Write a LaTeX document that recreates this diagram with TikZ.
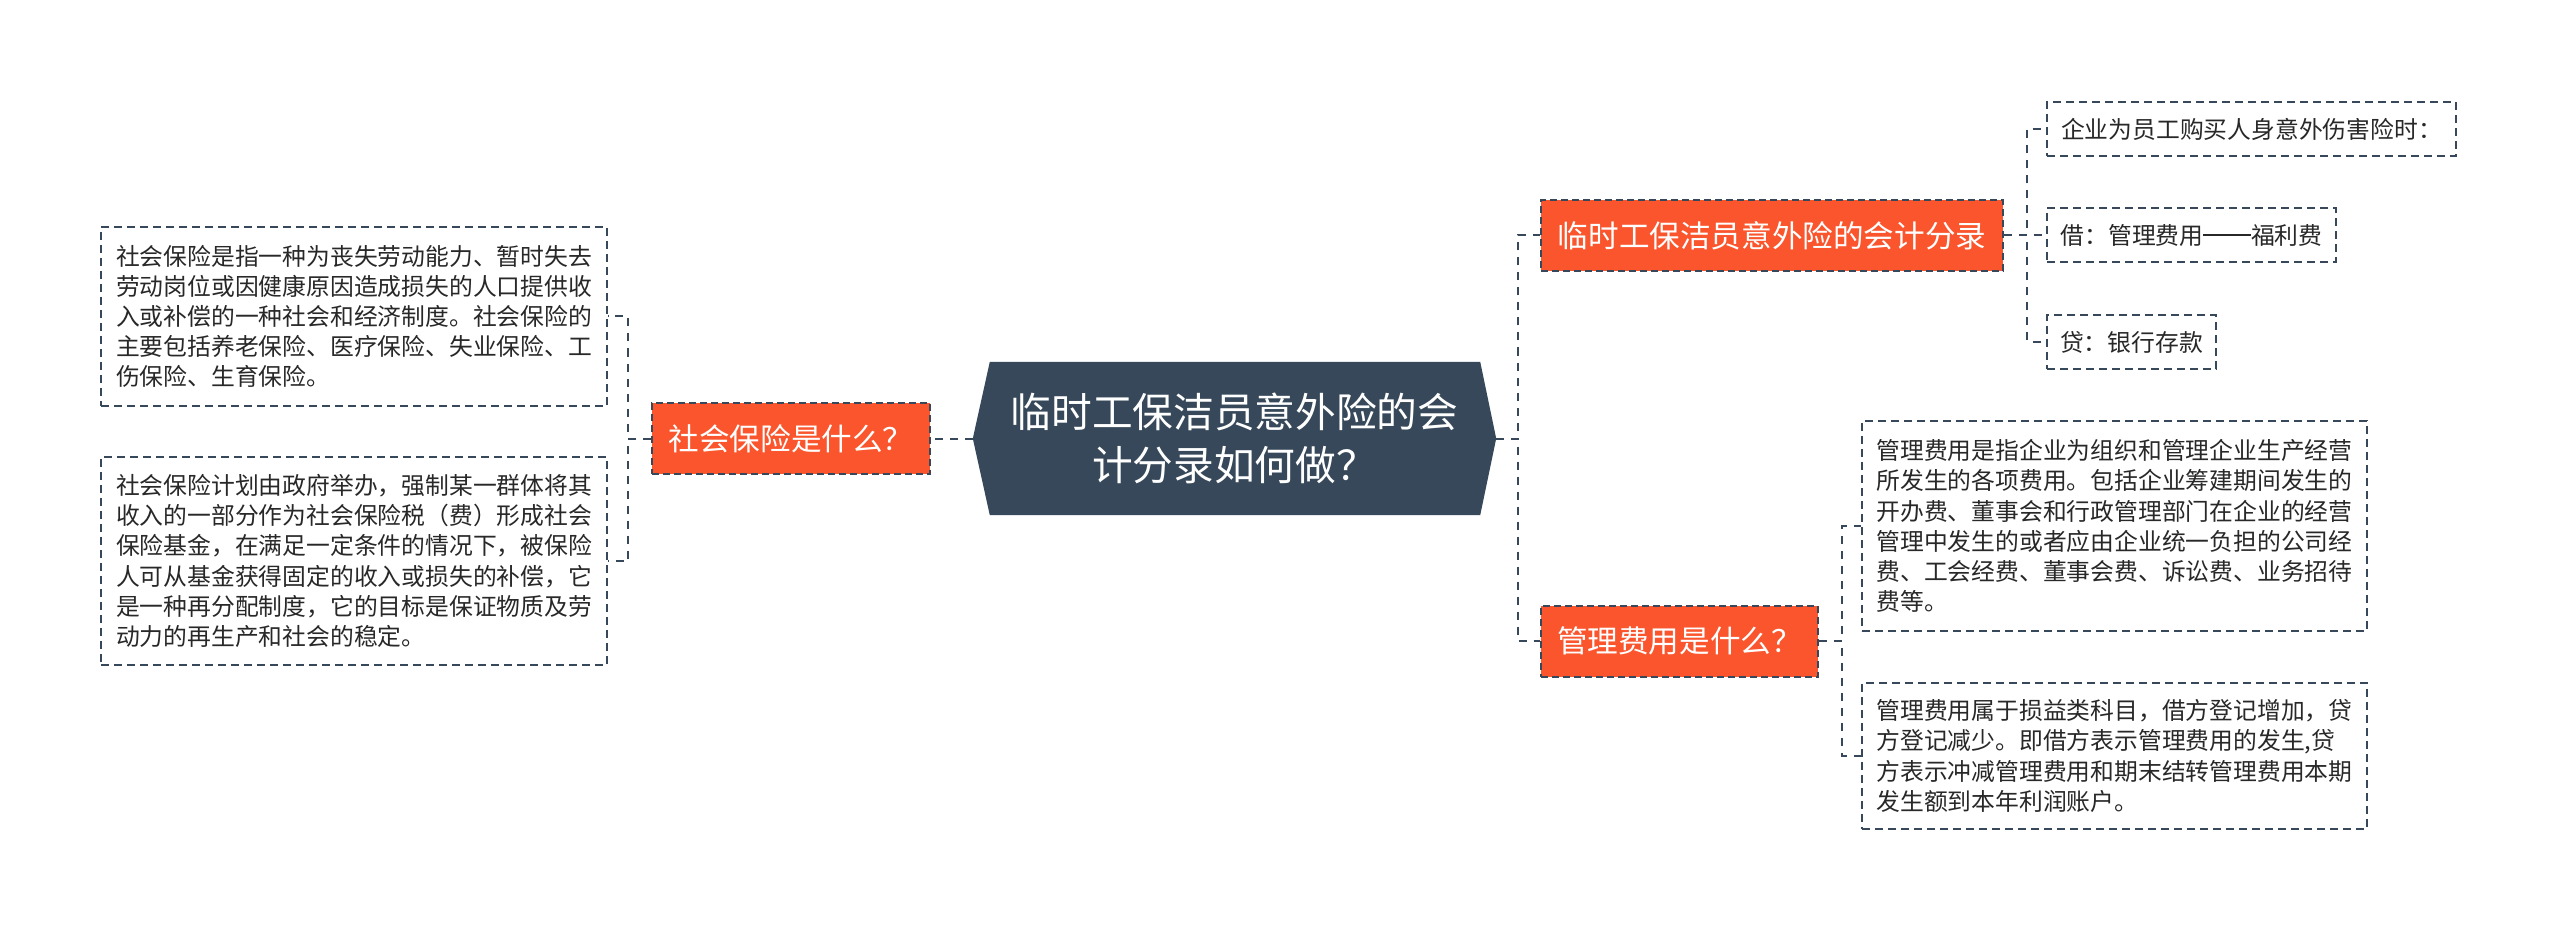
\documentclass[tikz,border=0pt]{standalone}
\usepackage{fontspec}
\newfontfamily\cjk{Noto Sans CJK SC}
\usetikzlibrary{calc,backgrounds}
\definecolor{orng}{RGB}{250,85,45}
\definecolor{slate}{RGB}{54,72,89}
\definecolor{txt}{RGB}{40,40,40}
\begin{document}
\begin{tikzpicture}[x=1pt,y=-1pt,
  conn/.style={draw=slate, line width=2pt, dash pattern=on 8pt off 7pt},
  leafbox/.style={draw=slate, line width=1.8pt, dash pattern=on 8pt off 5pt, fill=white,
    align=left, text=txt, font=\cjk\fontsize{23.8}{30.2}\selectfont, inner sep=0pt},
  branchbox/.style={fill=orng, draw=slate, line width=2pt, dash pattern=on 7pt off 4pt,
    text=white, font=\cjk\fontsize{30.6}{36}\selectfont, inner sep=0pt, minimum height=71pt},
  rootbox/.style={text=white, align=center, font=\cjk\fontsize{40.7}{53}\selectfont, inner sep=0pt}]
\useasboundingbox (0,0) rectangle (2560,933);

% root
\node[rootbox, minimum width=523pt, minimum height=153pt] (c) at (1234.5,438.5)
  {临时工保洁员意外险的会\\计分录如何做？};
\begin{scope}[on background layer]
\fill[white] (0,0) rectangle (2560,933);
\fill[slate] (c.west) -- ($(c.north west)+(17,0)$) -- ($(c.north east)+(-16,0)$) -- (c.east)
  -- ($(c.south east)+(-16,0)$) -- ($(c.south west)+(17,0)$) -- cycle;
\end{scope}

% left branch
\node[branchbox, minimum width=278pt] (ln) at (791,438.5) {社会保险是什么？};
\node[leafbox, minimum width=506pt, minimum height=179pt] (lb1) at (354,316.5)
  {社会保险是指一种为丧失劳动能力、暂时失去\\劳动岗位或因健康原因造成损失的人口提供收\\入或补偿的一种社会和经济制度。社会保险的\\主要包括养老保险、医疗保险、失业保险、工\\伤保险、生育保险。};
\node[leafbox, minimum width=506pt, minimum height=208pt] (lb2) at (354,561)
  {社会保险计划由政府举办，强制某一群体将其\\收入的一部分作为社会保险税（费）形成社会\\保险基金，在满足一定条件的情况下，被保险\\人可从基金获得固定的收入或损失的补偿，它\\是一种再分配制度，它的目标是保证物质及劳\\动力的再生产和社会的稳定。};

% right branches
\node[branchbox, minimum width=462pt] (r1) at (1772,235.5) {临时工保洁员意外险的会计分录};
\node[branchbox, minimum width=277pt] (r2) at (1679.5,641) {管理费用是什么？};

\node[leafbox, minimum width=409pt, minimum height=54pt] (t1) at (2251.5,129) {企业为员工购买人身意外伤害险时：};
\node[leafbox, minimum width=289pt, minimum height=54pt] (t2) at (2191.5,235) {借：管理费用\rule[0.32em]{2em}{0.085em}福利费};
\node[leafbox, minimum width=169pt, minimum height=54pt] (t3) at (2131.5,342) {贷：银行存款};

\node[leafbox, minimum width=505pt, minimum height=210pt] (ra) at (2114.5,526)
  {管理费用是指企业为组织和管理企业生产经营\\所发生的各项费用。包括企业筹建期间发生的\\开办费、董事会和行政管理部门在企业的经营\\管理中发生的或者应由企业统一负担的公司经\\费、工会经费、董事会费、诉讼费、业务招待\\费等。};
\node[leafbox, minimum width=505pt, minimum height=146pt] (rb) at (2114.5,756)
  {管理费用属于损益类科目，借方登记增加，贷\\方登记减少。即借方表示管理费用的发生,贷\\方表示冲减管理费用和期末结转管理费用本期\\发生额到本年利润账户。};

% connectors
\draw[conn] (c.west) -- (ln.east);
\draw[conn] (ln.west) -- ++(-23,0) |- (lb1.east);
\draw[conn] (ln.west) -- ++(-23,0) |- (lb2.east);
\draw[conn] (c.east) -- ++(22,0) |- (r1.west);
\draw[conn] (c.east) -- ++(22,0) |- (r2.west);
\draw[conn] (r1.east) -- ++(23,0) |- (t1.west);
\draw[conn] (r1.east) -- ++(23,0) |- (t2.west);
\draw[conn] (r1.east) -- ++(23,0) |- (t3.west);
\draw[conn] (r2.east) -- ++(23,0) |- (ra.west);
\draw[conn] (r2.east) -- ++(23,0) |- (rb.west);
\end{tikzpicture}
\end{document}
